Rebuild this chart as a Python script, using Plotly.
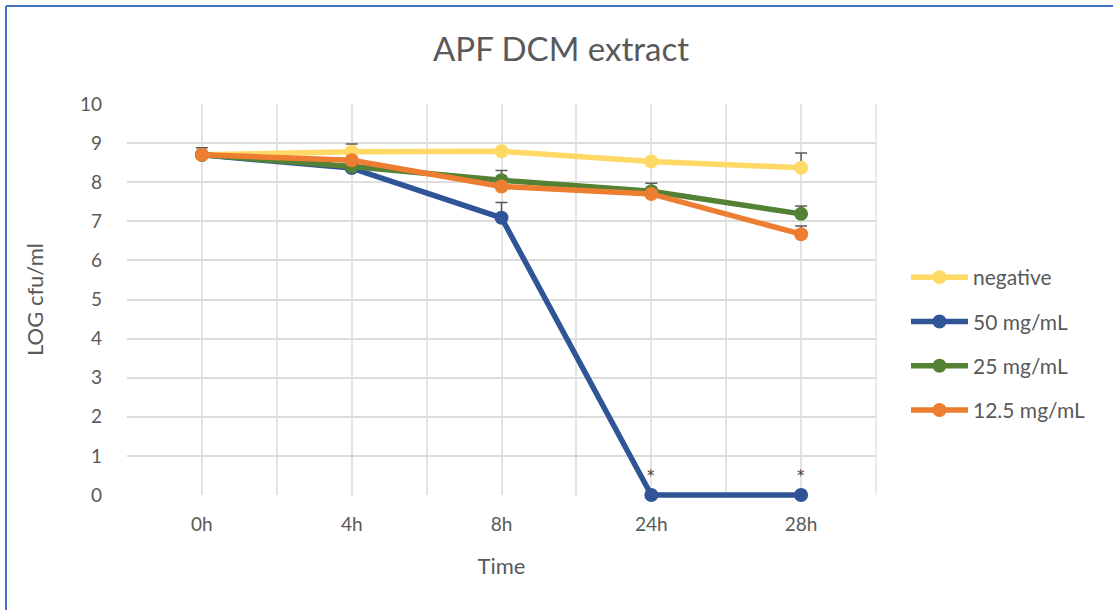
import plotly.graph_objects as go

categories = ["0h", "4h", "8h", "24h", "28h"]
series_names = ["negative", "50 mg/mL", "25 mg/mL", "12.5 mg/mL"]
negative = [8.70, 8.78, 8.79, 8.53, 8.37]
mg50 = [8.70, 8.36, 7.09, 0.0, 0.0]
mg25 = [8.70, 8.40, 8.05, 7.77, 7.19]
mg12_5 = [8.70, 8.56, 7.89, 7.70, 6.67]
err_negative = [0.18, 0.20, 0.0, 0.0, 0.38]
err_50 = [0.0, 0.0, 0.39, 0.0, 0.0]
err_25 = [0.0, 0.0, 0.25, 0.20, 0.20]
err_12_5 = [0.0, 0.0, 0.0, 0.0, 0.21]
star_labels = ["", "", "", "*", "*"]

colors = ["#FFD966", "#2F5597", "#548235", "#ED7D31"]
values = [negative, mg50, mg25, mg12_5]
errors = [err_negative, err_50, err_25, err_12_5]

FONT = "Lato, Calibri, Carlito, sans-serif"
GREY = "#595959"

W, H = 1113, 610
PLOT_TOP, PLOT_BOTTOM, PLOT_LEFT, PLOT_RIGHT = 104, 495, 127, 876
EXTRA = 20  # extra pixels below y=0 so the zero line is not clipped
l, r, t, b = PLOT_LEFT, W - PLOT_RIGHT, PLOT_TOP, H - PLOT_BOTTOM - EXTRA
pw, ph = W - l - r, H - t - b
YMAX = 10
px_per_unit = (PLOT_BOTTOM - PLOT_TOP) / YMAX
y2_min = -EXTRA / px_per_unit

def px2x(p): return (p - l) / pw
def py2y(p): return (H - b - p) / ph

xpos = list(range(len(categories)))
fig = go.Figure()
# invisible trace so the gridded main axes are drawn
fig.add_trace(go.Scatter(x=xpos, y=[None] * len(xpos), mode="lines",
                         showlegend=False, hoverinfo="skip",
                         xaxis="x", yaxis="y"))
for i, (name, vals, errs, col) in enumerate(zip(series_names, values, errors, colors)):
    fig.add_trace(go.Scatter(
        x=xpos, y=vals, name=name, mode="lines+markers",
        line=dict(color=col, width=5.5),
        marker=dict(color=col, size=14),
        error_y=dict(type="data", symmetric=False, array=errs,
                     arrayminus=[0] * len(errs), color=GREY,
                     thickness=1.5, width=6),
        legendgroup=str(i), cliponaxis=False,
        xaxis="x2", yaxis="y2",
    ))

for xi, (lab, v) in enumerate(zip(star_labels, mg50)):
    if lab:
        fig.add_annotation(x=xi, y=v, xref="x2", yref="y2", text=lab,
                           showarrow=False, yshift=19,
                           font=dict(size=15, color="#404040", family="DejaVu Sans"))

# Outer border (left & top only visible)
fig.add_shape(type="line", xref="paper", yref="paper",
              x0=px2x(6), x1=px2x(6), y0=py2y(6), y1=py2y(H + 5),
              line=dict(color="#4472C4", width=2))
fig.add_shape(type="line", xref="paper", yref="paper",
              x0=px2x(6), x1=px2x(W + 5), y0=py2y(6), y1=py2y(6),
              line=dict(color="#4472C4", width=2))
fig.add_shape(type="line", xref="paper", yref="paper", x0=1, x1=1,
              y0=py2y(PLOT_BOTTOM), y1=1,
              line=dict(color="#E3E3E3", width=1.5), layer="below")

xr = [-0.5, len(categories) - 0.5]
fig.update_layout(
    width=W, height=H,
    margin=dict(l=l, r=r, t=t, b=b),
    paper_bgcolor="white", plot_bgcolor="rgba(0,0,0,0)",
    font=dict(family=FONT, color=GREY, size=19),
    title=dict(text="APF DCM extract", x=561 / W, xanchor="center",
               y=1 - 49 / H, yanchor="middle",
               font=dict(size=33, color=GREY, family=FONT)),
    xaxis=dict(
        range=xr, tickmode="array", tickvals=xpos, ticktext=categories,
        showgrid=True, gridcolor="#E3E3E3", gridwidth=1.5,
        zeroline=False, showline=False, ticks="",
        minor=dict(dtick=0.5, tick0=-0.5, showgrid=True,
                   gridcolor="#E3E3E3", gridwidth=1.5),
        title=dict(text="Time", font=dict(size=22, color=GREY), standoff=24),
        tickfont=dict(size=19, color=GREY), ticklabelstandoff=16,
        anchor="y", fixedrange=True,
    ),
    yaxis=dict(
        domain=[py2y(PLOT_BOTTOM), 1],
        range=[0, YMAX], dtick=1, showgrid=True, gridcolor="#DCDCDC", gridwidth=1.5,
        zeroline=False, showline=False, ticks="",
        title=dict(text="LOG cfu/ml", font=dict(size=22, color=GREY), standoff=30),
        tickfont=dict(size=19, color=GREY), ticklabelstandoff=24,
        anchor="x", fixedrange=True,
    ),
    xaxis2=dict(range=xr, visible=False, anchor="y2", domain=[0, 1]),
    yaxis2=dict(range=[y2_min, YMAX], visible=False, anchor="x2", domain=[0, 1]),
    legend=dict(x=px2x(906), y=py2y(257), xanchor="left", yanchor="top",
                font=dict(size=21, color=GREY), tracegroupgap=14,
                itemwidth=57, bgcolor="rgba(0,0,0,0)"),
    showlegend=True,
)

fig.write_html("out.html")
